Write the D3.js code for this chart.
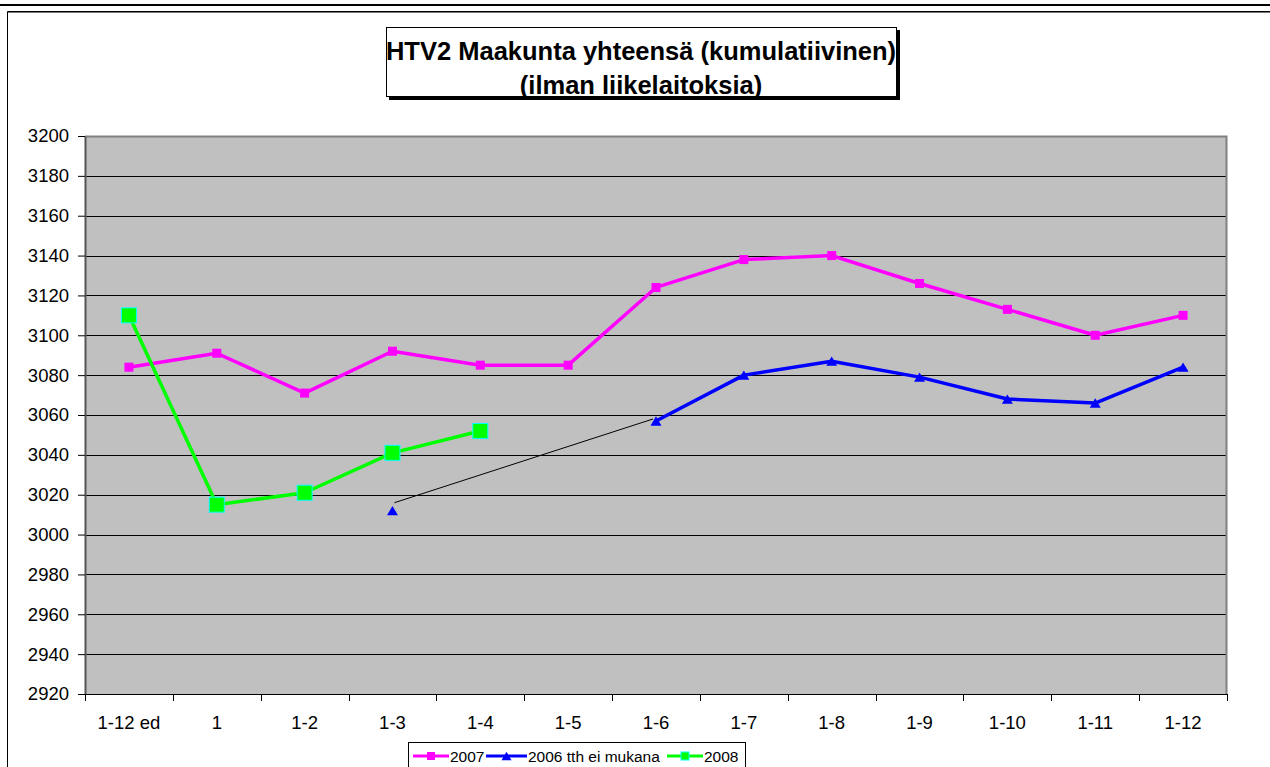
<!DOCTYPE html>
<html>
<head>
<meta charset="utf-8">
<script src="https://cdn.jsdelivr.net/npm/d3@7"></script>
<style>
  body { margin: 0; background: #fff; }
  svg text { font-family: Arial, 'Liberation Sans', sans-serif; fill: #000; }
</style>
</head>
<body>
<div id="chart"></div>
<script>
const categories = ['1-12 ed', '1', '1-2', '1-3', '1-4', '1-5', '1-6', '1-7', '1-8', '1-9', '1-10', '1-11', '1-12'];
const values2007 = [3084, 3091, 3071, 3092, 3085, 3085, 3124, 3138, 3140, 3126, 3113, 3100, 3110];
const values2006 = [null, null, null, 3012, null, null, 3057, 3080, 3087, 3079, 3068, 3066, 3084];
const values2008 = [3110, 3015, 3021, 3041, 3052, null, null, null, null, null, null, null, null];
const yTicks = [2920, 2940, 2960, 2980, 3000, 3020, 3040, 3060, 3080, 3100, 3120, 3140, 3160, 3180, 3200];
// hand drawn connector between 1-3 and 1-6
const noteLine = [{ cat: '1-3', value: 3016 }, { cat: '1-6', value: 3058 }];
const titleLines = ['HTV2 Maakunta yhteensä (kumulatiivinen)', '(ilman liikelaitoksia)'];

const svgWidth = 1270,
      svgHeight = 767;

const plot = { left: 85, right: 1227, top: 136, bottom: 694 };

const svg = d3.select('#chart')
              .append('svg')
              .attr('width', svgWidth)
              .attr('height', svgHeight);

// page frame
svg.append('rect').attr('x', 0).attr('y', 4).attr('width', svgWidth).attr('height', 2).attr('fill', '#000');
svg.append('path').attr('d', `M7.5,${svgHeight} V11.5 H${svgWidth}`)
   .attr('fill', 'none').attr('stroke', '#000');
svg.append('line').attr('x1', 8).attr('x2', svgWidth).attr('y1', 12.5).attr('y2', 12.5)
   .attr('stroke', '#777');

// scales
const x = d3.scaleBand()
            .domain(categories)
            .range([plot.left, plot.right]);
const y = d3.scaleLinear()
            .domain([2920, 3200])
            .range([plot.bottom, plot.top]);
const cx = c => x(c) + x.bandwidth() / 2;

// plot area
svg.append('rect')
   .attr('x', plot.left).attr('y', plot.top)
   .attr('width', plot.right - plot.left).attr('height', plot.bottom - plot.top)
   .attr('fill', '#c0c0c0');

// grid
svg.append('g')
   .selectAll('line')
   .data(yTicks.slice(1, -1))
   .enter()
   .append('line')
   .attr('x1', plot.left).attr('x2', plot.right)
   .attr('y1', d => Math.round(y(d)) + 0.5).attr('y2', d => Math.round(y(d)) + 0.5)
   .attr('stroke', '#000');

// plot border top/right
svg.append('path')
   .attr('d', `M${plot.left},${plot.top + 0.5} H${plot.right - 0.5} V${plot.bottom}`)
   .attr('fill', 'none').attr('stroke', '#808080').attr('stroke-width', 2);

// y axis
const yAxis = d3.axisLeft(y)
                .tickValues(yTicks)
                .tickFormat(d3.format('d'))
                .tickSize(7)
                .tickPadding(9)
                .tickSizeOuter(0);
const gy = svg.append('g')
   .attr('transform', `translate(${plot.left},0)`)
   .call(yAxis);
gy.selectAll('text').style('font-size', '18.5px');
gy.select('.domain').attr('stroke', '#555').attr('stroke-width', 2);

// x axis
const xAxis = d3.axisBottom(x)
                .tickSize(0)
                .tickPadding(22)
                .tickSizeOuter(0);
const gx = svg.append('g')
   .attr('transform', `translate(0,${plot.bottom})`)
   .call(xAxis);
gx.selectAll('text').style('font-size', '18.5px');
gx.select('.domain').attr('stroke', '#000');
gx.selectAll('.bound')
  .data(categories.map(c => x(c)).concat([x.range()[1]]))
  .enter()
  .append('line')
  .attr('class', 'bound')
  .attr('x1', d => Math.round(d) + 0.5).attr('x2', d => Math.round(d) + 0.5)
  .attr('y1', 0).attr('y2', 7)
  .attr('stroke', '#000');

// connector line
svg.append('line')
   .attr('x1', cx(noteLine[0].cat) + 2).attr('y1', y(noteLine[0].value))
   .attr('x2', cx(noteLine[1].cat) - 3).attr('y2', y(noteLine[1].value))
   .attr('stroke', '#000').attr('stroke-width', 1);

const lineGen = d3.line()
                  .defined(d => d.v !== null)
                  .x(d => cx(d.c))
                  .y(d => y(d.v));

const series = [
  { name: '2007', values: values2007, color: '#ff00ff', marker: 'square', size: 9, stroke: null },
  { name: '2006 tth ei mukana', values: values2006, color: '#0000ff', marker: 'triangle', size: 11, stroke: null },
  { name: '2008', values: values2008, color: '#00ff00', marker: 'square', size: 15, stroke: '#00ffff' }
];

function drawMarker(g, s, px, py, size) {
  if (s.marker === 'square') {
    g.append('rect')
     .attr('x', px - size / 2).attr('y', py - size / 2)
     .attr('width', size).attr('height', size)
     .attr('fill', s.color)
     .attr('stroke', s.stroke || 'none')
     .attr('stroke-width', 1);
  } else {
    const h = size * 0.85;
    g.append('path')
     .attr('d', `M${px},${py - h / 2} L${px + size / 2},${py + h / 2} L${px - size / 2},${py + h / 2} Z`)
     .attr('fill', s.color);
  }
}

series.forEach(s => {
  const pts = categories.map((c, i) => ({ c: c, v: s.values[i] }));
  const g = svg.append('g');
  g.append('path')
   .datum(pts)
   .attr('d', lineGen)
   .attr('fill', 'none')
   .attr('stroke', s.color)
   .attr('stroke-width', 3.5)
   .attr('stroke-linejoin', 'round');
  pts.filter(d => d.v !== null).forEach(d => drawMarker(g, s, cx(d.c), y(d.v), s.size));
});

// title box
const title = svg.append('g');
title.append('rect').attr('x', 389).attr('y', 30).attr('width', 511).attr('height', 70).attr('fill', '#000');
title.append('rect').attr('x', 386.5).attr('y', 27.5).attr('width', 510).attr('height', 69)
     .attr('fill', '#fff').attr('stroke', '#000');
title.selectAll('text')
     .data(titleLines)
     .enter()
     .append('text')
     .attr('x', 641)
     .attr('y', (d, i) => 60 + i * 34)
     .attr('text-anchor', 'middle')
     .style('font-size', '25.5px')
     .style('font-weight', 'bold')
     .text(d => d);

// legend
const legend = svg.append('g');
legend.append('rect').attr('x', 408.5).attr('y', 742.5).attr('width', 337).attr('height', 30)
      .attr('fill', '#fff').attr('stroke', '#000');
const legendItems = [
  { s: series[0], x0: 413, x1: 449 },
  { s: series[1], x0: 486, x1: 527 },
  { s: series[2], x0: 667, x1: 703 }
];
const ly = 756;
legendItems.forEach(it => {
  legend.append('line')
        .attr('x1', it.x0).attr('x2', it.x1).attr('y1', ly).attr('y2', ly)
        .attr('stroke', it.s.color).attr('stroke-width', 3);
  drawMarker(legend, it.s, (it.x0 + it.x1) / 2, ly, it.s.marker === 'triangle' ? 10 : 8);
  legend.append('text')
        .attr('x', it.x1 + 1).attr('y', ly + 5.5)
        .style('font-size', '15.5px')
        .text(it.s.name);
});
</script>
</body>
</html>
